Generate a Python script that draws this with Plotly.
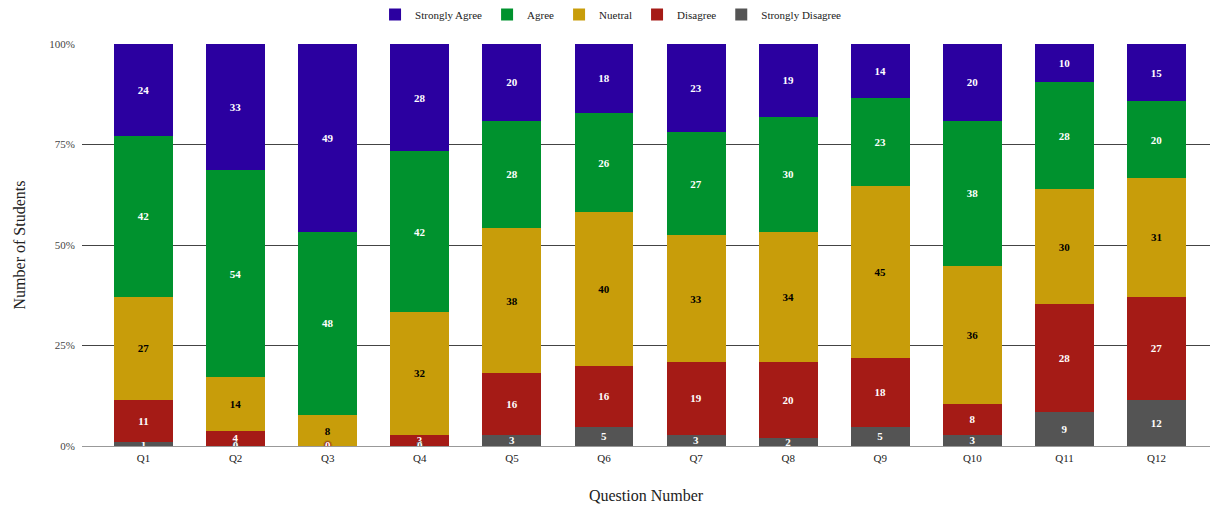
import plotly.graph_objects as go

questions = ["Q1", "Q2", "Q3", "Q4", "Q5", "Q6", "Q7", "Q8", "Q9", "Q10", "Q11", "Q12"]
strongly_disagree = [1, 0, 0, 0, 3, 5, 3, 2, 5, 3, 9, 12]
disagree = [11, 4, 0, 3, 16, 16, 19, 20, 18, 8, 28, 27]
neutral = [27, 14, 8, 32, 38, 40, 33, 34, 45, 36, 30, 31]
agree = [42, 54, 48, 42, 28, 26, 27, 30, 23, 38, 28, 20]
strongly_agree = [24, 33, 49, 28, 20, 18, 23, 19, 14, 20, 10, 15]
y_ticks = [0, 25, 50, 75, 100]
y_tick_labels = [f"{v}%" for v in y_ticks]

series = [
    ("Strongly Disagree", strongly_disagree, "#545454", "white"),
    ("Disagree", disagree, "#a51b16", "white"),
    ("Nuetral", neutral, "#c89d0a", "black"),
    ("Agree", agree, "#00922e", "white"),
    ("Strongly Agree", strongly_agree, "#2b00a0", "white"),
]

FONT = "Liberation Serif"
fig = go.Figure()
for name, vals, color, tcolor in series:
    fig.add_trace(go.Bar(
        name=name, x=questions, y=vals, marker_color=color,
        marker_line_width=0,
        text=[str(v) if v != 0 else "" for v in vals],
        textposition="inside", insidetextanchor="middle",
        constraintext="none", textangle=0,
        textfont=dict(family=FONT, size=11, color=tcolor, weight="bold"),
    ))

# labels for zero-valued segments, drawn at the baseline
for name, vals, color, tcolor in series[:2]:
    zx = [q for q, v in zip(questions, vals) if v == 0]
    zt = [str(v) for v in vals if v == 0]
    halo = ", ".join([f"0px 0px 1.5px {color}"] * 4)
    fig.add_trace(go.Scatter(
        x=zx, y=[0] * len(zx), mode="text", text=zt, showlegend=False,
        hoverinfo="skip", textposition="middle center",
        textfont=dict(family=FONT, size=11, color="white", weight="bold", shadow=halo),
    ))

fig.update_layout(
    barmode="stack", barnorm="percent", bargap=0.36,
    width=1210, height=508,
    margin=dict(l=82, r=0, t=44, b=62),
    plot_bgcolor="white", paper_bgcolor="white",
    font=dict(family=FONT, size=11, color="#222"),
    legend=dict(orientation="h", traceorder="reversed", x=0.505, xanchor="center",
                xref="container", yref="container",
                y=1.0, yanchor="top", font=dict(family=FONT, size=11, color="#222")),
    xaxis=dict(
        range=[-0.668, 11.58], showgrid=False, showline=False,
        tickfont=dict(family=FONT, size=11, color="#222"), ticklabelstandoff=4,
        title=dict(text="Question Number", font=dict(family=FONT, size=16, color="#222"), standoff=26),
    ),
    yaxis=dict(
        range=[0, 100], tickmode="array", tickvals=y_ticks, ticktext=y_tick_labels,
        gridcolor="#444", gridwidth=1, zeroline=True, zerolinecolor="#999", zerolinewidth=1,
        tickfont=dict(family=FONT, size=11, color="#444"), ticklabelstandoff=6,
        title=dict(text="Number of Students", font=dict(family=FONT, size=16, color="#222"), standoff=19),
    ),
)

fig.write_html("out.html", config={"displayModeBar": False},
               post_script="document.body.style.margin='0';")
